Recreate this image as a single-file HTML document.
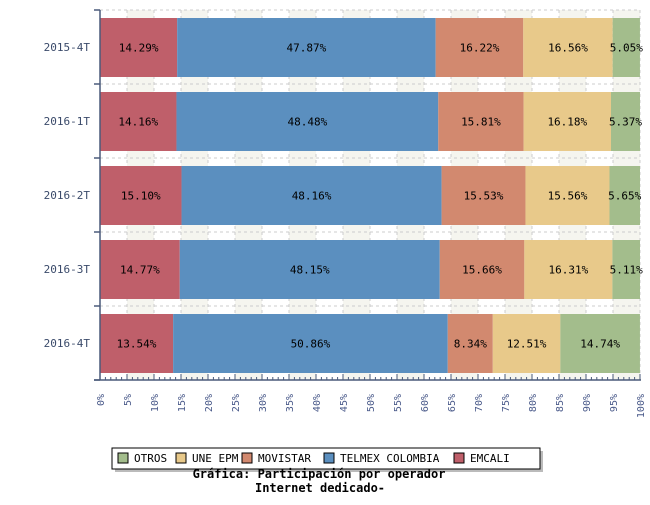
<!DOCTYPE html>
<html><head><meta charset="utf-8"><style>
body{margin:0;background:#fff;}
svg text{font-family:"DejaVu Sans Mono","Liberation Mono",monospace;}
</style></head><body>
<svg width="650" height="500" xmlns="http://www.w3.org/2000/svg">
<g id="bg"></g>
<g id="bars"></g>
<g id="axes"></g>
<g>
<rect x="115" y="451" width="428" height="21" fill="#bbb"/>
<rect x="112" y="448" width="428" height="21" fill="#fff" stroke="#000" stroke-width="1"/>
<g id="legend"></g>
</g>
<text x="319" y="478" text-anchor="middle" font-size="12" font-weight="bold">Gráfica: Participación por operador</text>
<text x="320" y="492" text-anchor="middle" font-size="12" font-weight="bold">Internet dedicado-</text>
</svg>
<script>
const categories=["2015-4T","2016-1T","2016-2T","2016-3T","2016-4T"];
const emcali=[14.29,14.16,15.10,14.77,13.54];
const telmex=[47.87,48.48,48.16,48.15,50.86];
const movistar=[16.22,15.81,15.53,15.66,8.34];
const uneEpm=[16.56,16.18,15.56,16.31,12.51];
const otros=[5.05,5.37,5.65,5.11,14.74];
const xTicks=[0,5,10,15,20,25,30,35,40,45,50,55,60,65,70,75,80,85,90,95,100];
const seriesNames=["EMCALI","TELMEX COLOMBIA","MOVISTAR","UNE EPM","OTROS"];
const seriesColors=["#bf5f6a","#5b8fbf","#d2896f","#e8c98a","#a3bd8c"];
const NS="http://www.w3.org/2000/svg";
const L=100,R=640,T=10,B=380;
const band=(B-T)/categories.length;
const x=v=>L+(R-L)*v/100;
const yb=i=>T+band*i;
function mk(tag,attrs,parent,text){const e=document.createElementNS(NS,tag);for(const k in attrs)e.setAttribute(k,attrs[k]);if(text!=null)e.textContent=text;parent.appendChild(e);return e;}
const bg=document.getElementById('bg');
for(let i=0;i<xTicks.length-1;i++){if(i%2===1){const r=mk('rect',{x:x(xTicks[i]),y:T,width:x(xTicks[i+1])-x(xTicks[i]),height:B-T,fill:'#f5f5ef'},bg);}}
for(let i=1;i<xTicks.length;i++){mk('line',{x1:x(xTicks[i]),x2:x(xTicks[i]),y1:T,y2:B,stroke:'#ccc','stroke-dasharray':'3,3'},bg);}
for(let i=0;i<categories.length;i++){mk('line',{x1:L,x2:R,y1:yb(i),y2:yb(i),stroke:'#ccc','stroke-dasharray':'3,3'},bg);}
const bars=document.getElementById('bars');
const all=[emcali,telmex,movistar,uneEpm,otros];
categories.forEach((c,i)=>{let acc=0;const y0=yb(i)+8,h=band-15;
all.forEach((s,j)=>{const v=s[i];const r=mk('rect',{x:x(acc),y:y0,width:x(acc+v)-x(acc),height:h,fill:seriesColors[j]},bars);


const t=mk('text',{x:(x(acc)+x(acc+v))/2,y:y0+h/2+4,'text-anchor':'middle','font-size':'11',fill:'#000'},bars,v.toFixed(2)+'%');


acc+=v;});});
const ax=document.getElementById('axes');
mk('line',{x1:L,x2:L,y1:T,y2:B,stroke:'#4a5a7a','stroke-width':1.5},ax);
mk('line',{x1:L-6,x2:R+1,y1:B,y2:B,stroke:'#4a5a7a','stroke-width':1.5},ax);
for(let i=0;i<=categories.length;i++){mk('line',{x1:L-6,x2:L,y1:yb(i),y2:yb(i),stroke:'#4a5a7a','stroke-width':1.5},ax);}
categories.forEach((c,i)=>{const t=mk('text',{x:L-10,y:yb(i)+band/2+4,'text-anchor':'end','font-size':'11',fill:'#3a4a6a','font-family':'Liberation Sans, sans-serif'},ax,c);});
for(let v=0;v<=100;v++){mk('line',{x1:x(v),x2:x(v),y1:B,y2:B-(v%5===0?6:3),stroke:'#4a5a7a'},ax);}
xTicks.forEach(v=>{const t=mk('text',{transform:`translate(${x(v)+4},${B+14}) rotate(-90)`,'text-anchor':'end','font-size':'10',fill:'#4a5a8a'},ax,v+'%');});
const lg=document.getElementById('legend');
const order=[4,3,2,1,0];const lx=[118,176,242,324,454];
order.forEach((j,k)=>{const r=mk('rect',{x:lx[k],y:453,width:10,height:10,fill:seriesColors[j],stroke:'#000'},lg);
const t=mk('text',{x:lx[k]+16,y:462,'font-size':'11'},lg,seriesNames[j]);});
</script>
</body></html>
